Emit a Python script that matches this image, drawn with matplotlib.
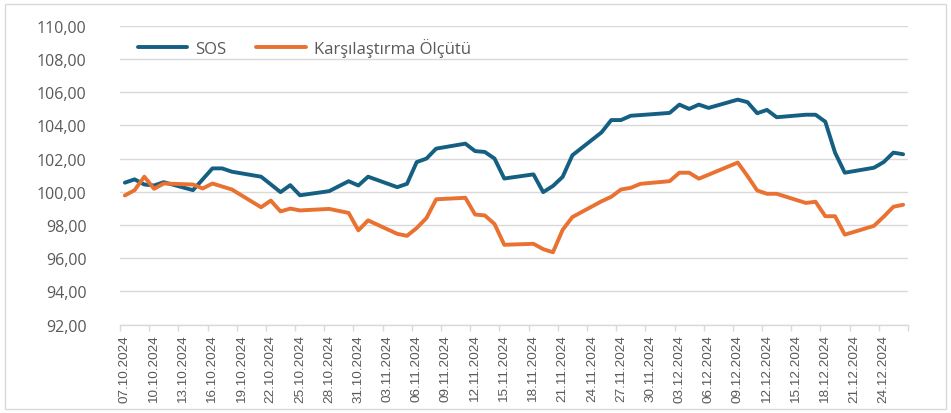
import matplotlib
matplotlib.use("Agg")
import matplotlib.pyplot as plt
from matplotlib.patches import Rectangle
import numpy as np
import pandas as pd

# business days only (29.10 holiday skipped), weekends bridged by the line
dates = ["07.10.2024", "08.10.2024", "09.10.2024", "10.10.2024", "11.10.2024",
         "14.10.2024", "15.10.2024", "16.10.2024", "17.10.2024", "18.10.2024",
         "21.10.2024", "22.10.2024", "23.10.2024", "24.10.2024", "25.10.2024",
         "28.10.2024", "30.10.2024", "31.10.2024", "01.11.2024",
         "04.11.2024", "05.11.2024", "06.11.2024", "07.11.2024", "08.11.2024",
         "11.11.2024", "12.11.2024", "13.11.2024", "14.11.2024", "15.11.2024",
         "18.11.2024", "19.11.2024", "20.11.2024", "21.11.2024", "22.11.2024",
         "25.11.2024", "26.11.2024", "27.11.2024", "28.11.2024", "29.11.2024",
         "02.12.2024", "03.12.2024", "04.12.2024", "05.12.2024", "06.12.2024",
         "09.12.2024", "10.12.2024", "11.12.2024", "12.12.2024", "13.12.2024",
         "16.12.2024", "17.12.2024", "18.12.2024", "19.12.2024", "20.12.2024",
         "23.12.2024", "24.12.2024", "25.12.2024", "26.12.2024"]

sos = [100.55, 100.75, 100.44, 100.38, 100.58,
       100.10, 100.75, 101.41, 101.41, 101.21,
       100.91, 100.45, 99.98, 100.40, 99.79,
       100.04, 100.64, 100.38, 100.91,
       100.28, 100.48, 101.79, 102.00, 102.60,
       102.90, 102.45, 102.40, 102.00, 100.80,
       101.05, 99.98, 100.35, 100.90, 102.20,
       103.58, 104.32, 104.32, 104.58, 104.62,
       104.75, 105.25, 104.99, 105.25, 105.05,
       105.55, 105.40, 104.73, 104.93, 104.49,
       104.64, 104.64, 104.22, 102.36, 101.15,
       101.45, 101.79, 102.36, 102.26]

olcut = [99.78, 100.10, 100.91, 100.18, 100.50,
         100.44, 100.20, 100.50, 100.32, 100.14,
         99.07, 99.47, 98.82, 98.99, 98.88,
         98.97, 98.73, 97.68, 98.28,
         97.47, 97.35, 97.82, 98.42, 99.55,
         99.64, 98.63, 98.58, 98.06, 96.81,
         96.87, 96.55, 96.36, 97.71, 98.48,
         99.43, 99.70, 100.14, 100.24, 100.48,
         100.64, 101.15, 101.15, 100.79, 101.03,
         101.76, 100.95, 100.08, 99.88, 99.88,
         99.33, 99.40, 98.53, 98.53, 97.42,
         97.95, 98.50, 99.10, 99.22]

names = ["SOS", "Karşılaştırma Ölçütü"]
y_ticks = [92, 94, 96, 98, 100, 102, 104, 106, 108, 110]

BLUE = "#156082"
ORANGE = "#E97132"
GRID = "#D9D9D9"
TXT = "#595959"

t = pd.to_datetime(dates, format="%d.%m.%Y")
start = t[0]
xd = np.array((t - start).days, dtype=float)
last = (pd.Timestamp("2024-12-26") - start).days

fig = plt.figure(figsize=(9.51, 4.14), dpi=100)
ax = fig.add_axes([120 / 951, 1 - 325.7 / 414, 788 / 951, 299 / 414])

ax.plot(xd, sos, color=BLUE, lw=2.8, solid_joinstyle="round", solid_capstyle="round", label=names[0], zorder=3)
ax.plot(xd, olcut, color=ORANGE, lw=2.8, solid_joinstyle="round", solid_capstyle="round", label=names[1], zorder=3)

ax.set_xlim(-0.5, last + 0.5)
ax.set_ylim(92, 110)

ax.set_yticks(y_ticks)
ax.set_yticklabels([f"{v:.2f}".replace(".", ",") for v in y_ticks],
                   fontsize=11.5, color=TXT, family=["Open Sans", "DejaVu Sans"])
ax.tick_params(axis="y", length=0, pad=24)
ax.yaxis.grid(True, color=GRID, lw=1.0)
ax.set_axisbelow(True)

# tick marks at slot borders, labels at slot centres
lab_pos = np.arange(0, last + 1, 3)
ax.set_xticks(np.arange(-0.5, last + 1, 3))
ax.set_xticklabels([])
ax.tick_params(axis="x", which="major", length=4, color=GRID, width=1)
ax.set_xticks(lab_pos, minor=True)
ax.set_xticklabels([(start + pd.Timedelta(days=int(d))).strftime("%d.%m.%Y") for d in lab_pos],
                   minor=True, rotation=90, fontsize=9.7, color=TXT,
                   family=["Liberation Sans", "DejaVu Sans"])
ax.tick_params(axis="x", which="minor", length=0, pad=7)

for s in ["top", "right", "left"]:
    ax.spines[s].set_visible(False)
ax.spines["bottom"].set_color(GRID)
ax.spines["bottom"].set_linewidth(1.0)

leg = ax.legend(loc="center left", bbox_to_anchor=(0.0225, 0.928), ncol=2, frameon=False,
                borderpad=0, borderaxespad=0, handlelength=2.95, handletextpad=0.5,
                columnspacing=1.8, prop={"family": ["Open Sans", "DejaVu Sans"], "size": 12})
for txt in leg.get_texts():
    txt.set_color(TXT)

fig.patches.append(Rectangle((5 / 951, 4 / 414), 941 / 951, 405 / 414, transform=fig.transFigure,
                             fill=False, edgecolor=GRID, lw=1.0))

fig.savefig("out.png", dpi=100)
